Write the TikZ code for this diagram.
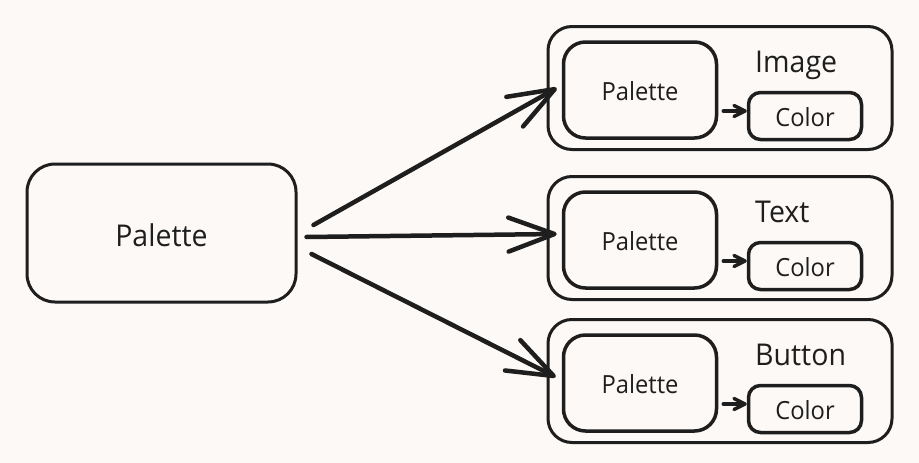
\documentclass[tikz,border=0pt]{standalone}
\usepackage{fontspec}
\setmainfont[FakeStretch=0.95]{Open Sans}
\usetikzlibrary{arrows.meta}
\definecolor{ink}{HTML}{1E1E1E}
\definecolor{paper}{HTML}{FCF9F6}
\newcommand\widget[3]{%
  \node[outer]    (#1)  at (720,#2)    {};
  \node[inner]    (#1p) at (640,#2+2)  {Palette};
  \node[colorbox] (#1c) at (805,#2+28) {Color};
  \node[title, anchor=base west] (#1t) at (755,#2-16) {#3};
  \draw[smallarrow] ([shift={(5pt,5pt)}]#1p.east |- #1c.west) -- ([yshift=5pt]#1c.west);}

\begin{document}
\begin{tikzpicture}[x=1pt,y=-1pt]

\tikzset{every node/.style={text=ink},
  box/.style={draw=ink,line width=3pt,rounded corners=#1},
  main/.style={box=28pt,minimum width=269pt,minimum height=138pt,text height=28pt,font=\fontsize{30}{34}\selectfont},
  outer/.style={box=24pt,minimum width=344pt,minimum height=123pt},
  inner/.style={box=22pt,line width=3.5pt,minimum width=153pt,minimum height=96pt,text height=21pt,font=\fontsize{25}{30}\selectfont},
  colorbox/.style={box=12pt,line width=3.5pt,minimum width=113pt,minimum height=47pt,text height=21pt,font=\fontsize{25}{30}\selectfont},
  title/.style={inner sep=0pt,font=\fontsize{30}{34}\selectfont},
  bigarrow/.style={draw=ink,line width=4.5pt,line cap=round,-{Straight Barb[length=46pt,width=34pt,round]}},
  smallarrow/.style={draw=ink,line width=3.5pt,line cap=round,-{Straight Barb[length=11pt,width=11pt,round]}}}

\fill[paper] (0,0) rectangle (919,463);
\useasboundingbox (0,0) rectangle (919,463);

\node[main] (pal) at (161.5,233) {Palette};

\widget{img}{88}{Image}
\widget{txt}{238}{Text}
\widget{btn}{381}{Button}

\draw[bigarrow] ([shift={(16pt,8pt)}]pal.east)   -- ([shift={(-5pt,2pt)}]imgp.west);
\draw[bigarrow] ([shift={(9pt,-4pt)}]pal.east)   -- ([shift={(-5pt,6pt)}]txtp.west);
\draw[bigarrow] ([shift={(14pt,-21pt)}]pal.east) -- ([shift={(-6pt,6pt)}]btnp.west);

\end{tikzpicture}
\end{document}
